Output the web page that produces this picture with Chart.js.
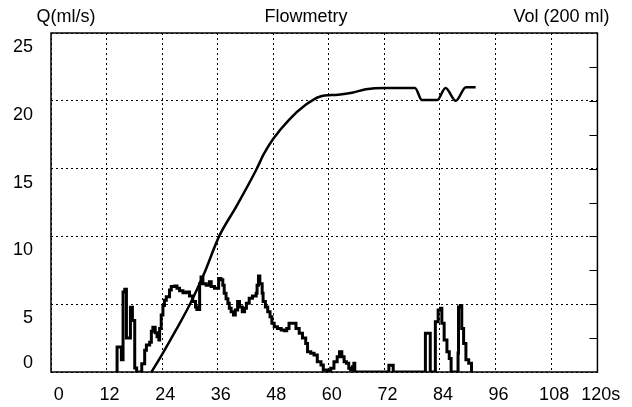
<!DOCTYPE html>
<html>
<head>
<meta charset="utf-8">
<script src="https://cdn.jsdelivr.net/npm/chart.js@4.4.1/dist/chart.umd.min.js"></script>
<style>
  html, body { margin: 0; padding: 0; background: #fff; }
  #wrap { width: 632px; height: 407px; }
</style>
</head>
<body>
<div id="wrap"><canvas id="flowChart"></canvas></div>
<script>
'use strict';

// --- axis ticks ---
const X_TICKS = [0, 12, 24, 36, 48, 60, 72, 84, 96, 108, 120];
const X_TICK_LABELS = ['0', '12', '24', '36', '48', '60', '72', '84', '96', '108', '120s'];
const Y_TICKS = [0, 5, 10, 15, 20, 25];

// --- flow Q (ml/s) over time (s) ---
const FLOW_T = [14.2, 14.27, 15.2, 15.56, 15.93, 16.29, 17.15, 17.58, 18.08, 18.5, 19.6,
  20.23, 20.6, 21.3, 21.67, 22.0, 22.5, 22.9, 23.3, 23.46, 23.8, 24.17, 24.5, 24.9,
  25.6, 25.97, 26.7, 27.2, 27.76, 28.5, 29.2, 29.9, 30.6, 31.2, 31.5, 32.1, 32.4, 32.8,
  33.5, 34.2, 34.6, 35.3, 36.2, 36.7, 37.1, 37.4, 37.8, 38.2, 38.5, 38.9, 39.4, 39.8,
  40.3, 40.7, 41.3, 41.8, 42.2, 42.8, 43.5, 44.3, 44.5, 44.8, 45.1, 45.6, 45.8, 46.3,
  46.8, 47.3, 47.7, 48.2, 48.9, 49.7, 50.4, 50.9, 51.4, 52.1, 52.9, 53.6, 54.3, 55.0,
  55.4, 56.1, 56.8, 57.5, 58.3, 58.8, 59.7, 60.4, 61.1, 61.8, 62.3, 62.8, 63.3, 63.8,
  64.3, 64.7, 65.1, 65.4, 65.6, 72.96, 73.9, 80.85, 81.9, 83.0, 83.6, 84.1, 84.4, 84.9,
  85.5, 86.0, 86.4, 87.9, 88.0, 88.4, 88.7, 89.1, 89.6, 90.2, 90.8];
const FLOW_Q = [0, 1.85, 0.9, 5.9, 6.1, 2.5, 4.77, 3.8, 0.3, 0, 0.6,
  1.6, 2.0, 2.2, 3.0, 3.3, 2.9, 2.6, 2.36, 3.2, 4.2, 4.9, 5.3, 5.55,
  6.05, 6.3, 6.35, 6.17, 6.0, 5.85, 5.9, 5.6, 5.2, 4.8, 4.6, 6.5, 7.0, 6.5,
  6.4, 6.65, 6.3, 6.17, 6.9, 6.8, 6.4, 5.8, 5.4, 5.07, 4.7, 4.45, 4.2, 4.57,
  5.2, 4.8, 4.45, 4.7, 5.07, 5.43, 5.6, 5.8, 6.4, 7.08, 6.5, 5.8, 5.2, 4.8,
  4.45, 4.08, 3.6, 3.34, 3.2, 3.1, 3.05, 3.2, 3.6, 3.6, 3.2, 2.85, 2.5, 2.1,
  1.5, 1.38, 1.25, 0.76, 0.52, 0.15, 0.1, 0.27, 0.76, 1.13, 1.5, 1.13, 0.76, 0.64,
  0.27, 0.15, 0.39, 0.64, 0, 0.5, 0, 2.85, 0, 3.7, 4.57, 4.7, 3.6, 2.36,
  1.5, 1.0, 0, 1.4, 4.8, 4.9, 3.2, 2.1, 0.9, 0.64, 0];

// --- voided volume (ml) over time (s) ---
const VOL_T = [21.7, 24, 27, 30, 33, 36.3, 40, 44.3, 46, 48, 51.4, 55, 58, 62, 65, 68, 72,
  78.6, 80.1, 83.4, 85.2, 87.4, 89.6, 91.7];
const VOL_ML = [0, 13, 31, 50, 72, 100, 122, 149, 161, 172, 186, 197, 203, 204.5, 206, 208.5, 209.5,
  209.5, 200.5, 200.5, 209.5, 200, 210, 210];

const T_MAX = 118;
const FONT = { family: "'Liberation Sans', Arial, sans-serif", size: 18, weight: 'normal' };

Chart.defaults.color = '#000';
Chart.defaults.font.family = FONT.family;

// frame, inner ticks on the right edge and the two corner captions
const framePlugin = {
  id: 'frame',
  afterDraw(chart) {
    const { ctx, chartArea: a, scales } = chart;
    ctx.save();
    ctx.strokeStyle = '#000';
    ctx.lineWidth = 1.5;
    ctx.strokeRect(a.left, a.top, a.right - a.left, a.bottom - a.top);
    ctx.beginPath();
    ctx.lineWidth = 1.2;
    for (let v = 2.5; v < 25; v += 2.5) {
      const y = Math.round(scales.y.getPixelForValue(v)) + 0.5;
      ctx.moveTo(a.right - 8, y);
      ctx.lineTo(a.right, y);
    }
    ctx.stroke();
    ctx.fillStyle = '#000';
    ctx.font = FONT.size + 'px ' + FONT.family;
    ctx.textBaseline = 'middle';
    const ty = a.top - 16;
    ctx.textAlign = 'center';
    ctx.fillText('Q(ml/s)', a.left + 15, ty);
    ctx.textAlign = 'right';
    ctx.fillText('Vol (200 ml)', a.right + 12, ty);
    ctx.restore();
  },
};

const canvas = document.getElementById('flowChart');
new Chart(canvas.getContext('2d'), {
  type: 'line',
  data: {
    datasets: [
      {
        label: 'Q (ml/s)',
        data: FLOW_T.map((t, i) => ({ x: t, y: FLOW_Q[i] })),
        borderColor: '#000',
        borderWidth: 3,
        pointRadius: 0,
        stepped: true,
        clip: 0,
        yAxisID: 'y',
      },
      {
        label: 'Vol (ml)',
        data: VOL_T.map((t, i) => ({ x: t, y: VOL_ML[i] })),
        borderColor: '#000',
        borderWidth: 2.5,
        pointRadius: 0,
        cubicInterpolationMode: 'monotone',
        yAxisID: 'yVol',
      },
    ],
  },
  options: {
    responsive: true,
    maintainAspectRatio: false,
    animation: false,
    events: [],
    layout: { padding: { left: 13, right: 33, top: 0, bottom: 0 } },
    plugins: {
      legend: { display: false },
      tooltip: { enabled: false },
      title: {
        display: true,
        text: 'Flowmetry',
        color: '#000',
        font: FONT,
        padding: { top: 6, bottom: 5.4 },
      },
    },
    scales: {
      x: {
        type: 'linear',
        min: 0,
        max: T_MAX,
        weight: 0,
        ticks: { display: false, stepSize: 12 },
        grid: { color: '#000', lineWidth: 1, drawTicks: false },
        border: { display: false, dash: [2, 3] },
        afterFit: a => { a.height = 0; },
      },
      xLab: {
        type: 'linear',
        position: 'bottom',
        min: 0,
        max: T_MAX,
        weight: 1,
        grid: { display: false, drawTicks: false },
        border: { display: false },
        ticks: {
          autoSkip: false,
          maxRotation: 0,
          padding: 12,
          font: FONT,
          color: '#000',
          callback: (v, i) => X_TICK_LABELS[i],
        },
        afterBuildTicks: a => {
          a.ticks = X_TICKS.map(v => ({ value: Math.min(Math.max(v + 0.65, 1.7), T_MAX + 0.7) }));
        },
        afterFit: a => { a.height = 35; },
      },
      y: {
        min: 0,
        max: 25,
        weight: 0,
        ticks: { display: false, stepSize: 5 },
        grid: { color: '#000', lineWidth: 1, drawTicks: false },
        border: { display: false, dash: [2, 3] },
        afterFit: a => { a.width = 0; },
      },
      yLab: {
        position: 'left',
        min: 0,
        max: 25,
        weight: 1,
        grid: { display: false, drawTicks: false },
        border: { display: false },
        ticks: {
          padding: 18,
          font: FONT,
          color: '#000',
          callback: (v, i) => String(Y_TICKS[i]),
        },
        afterBuildTicks: a => {
          a.ticks = Y_TICKS.map(v => ({ value: Math.max(v - 1.03, 0.66) }));
        },
        afterFit: a => { a.width = 38; },
      },
      yVol: { display: false, min: 0, max: 250 },
    },
  },
  plugins: [framePlugin],
});
</script>
</body>
</html>
